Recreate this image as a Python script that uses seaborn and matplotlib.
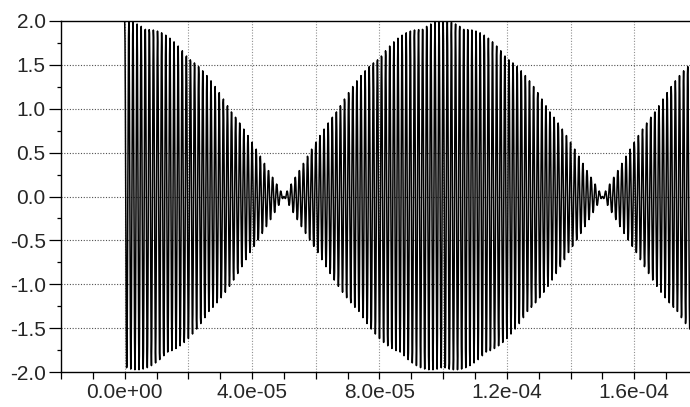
import numpy as np
import pandas as pd
import matplotlib
matplotlib.use("Agg")
import matplotlib.pyplot as plt
import seaborn as sns
from matplotlib.ticker import MultipleLocator, FormatStrFormatter

# Thông số tín hiệu (hai sóng sin gần tần số -> phách)
f_mang = 775e3        # tần số trung bình (Hz)
f_phach = 10e3        # chênh lệch tần số (Hz)
bien_do = [1.0, 1.0]  # biên độ hai sóng
t_bat_dau = 0.0
t_ket_thuc = 1.78e-4
buoc = 1e-7

# Tạo tín hiệu
t = np.arange(t_bat_dau, t_ket_thuc, buoc)
f1 = f_mang - f_phach / 2
f2 = f_mang + f_phach / 2
y = bien_do[0] * np.cos(2 * np.pi * f1 * t) + bien_do[1] * np.cos(2 * np.pi * f2 * t)
df = pd.DataFrame({"t": t, "y": y})

sns.set_style("ticks")
plt.rcParams["font.family"] = ["Liberation Sans", "DejaVu Sans"]

fig = plt.figure(figsize=(6.9, 4.07), dpi=100)
ax = fig.add_axes([61 / 690, 1 - 372 / 407, 1 - 61 / 690, (372 - 21) / 407])

sns.lineplot(data=df, x="t", y="y", color="black", linewidth=1.1, estimator=None, ax=ax)

ax.set_xlim(-2e-5, 1.775e-4)
ax.set_ylim(-2.0, 2.0)
ax.set_xlabel("")
ax.set_ylabel("")

ax.xaxis.set_major_locator(MultipleLocator(4e-5))
ax.xaxis.set_minor_locator(MultipleLocator(1e-5))
ax.xaxis.set_major_formatter(FormatStrFormatter("%.1e"))
ax.yaxis.set_major_locator(MultipleLocator(0.5))
ax.yaxis.set_minor_locator(MultipleLocator(0.25))
ax.yaxis.set_major_formatter(FormatStrFormatter("%.1f"))

# Lưới chấm
for xv in np.arange(0, 1.8e-4, 2e-5):
    ax.axvline(xv, color="#909090", linestyle=(0, (1, 1.5)), linewidth=0.8, zorder=0)
for yv in np.arange(-1.5, 2.0, 0.5):
    ax.axhline(yv, color="#505050", linestyle=(0, (1, 1.5)), linewidth=0.8, zorder=0)

ax.tick_params(axis="y", which="major", length=9, width=0.9, pad=2, labelsize=15, color="black")
ax.tick_params(axis="y", which="minor", length=3, width=0.9, color="black")
ax.tick_params(axis="x", which="major", length=5, width=0.9, pad=3, labelsize=15, color="black")
ax.tick_params(axis="x", which="minor", length=5, width=0.9, color="black")

for s in ["left", "bottom", "top"]:
    ax.spines[s].set_color("black")
    ax.spines[s].set_linewidth(1.0)
ax.spines["right"].set_visible(False)

fig.savefig("out.png", dpi=100)
